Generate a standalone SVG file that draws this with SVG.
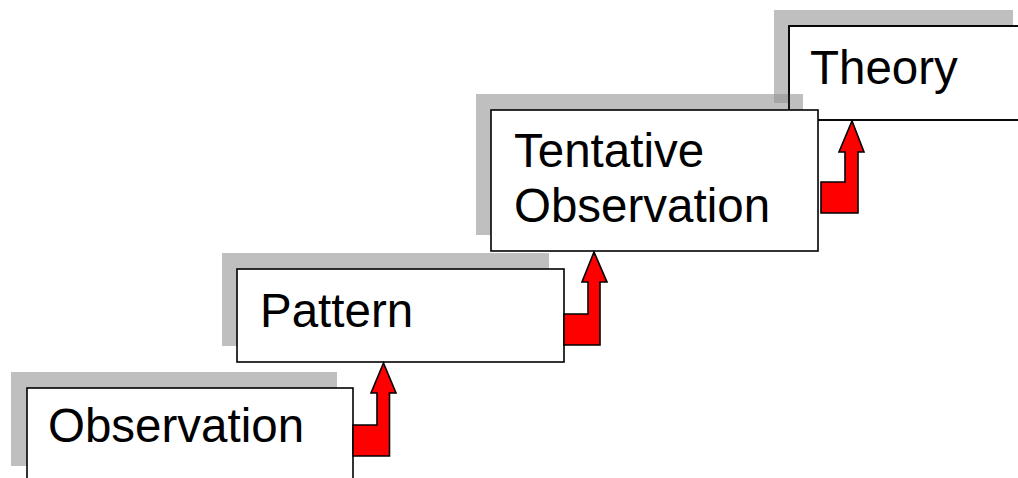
<svg xmlns="http://www.w3.org/2000/svg" width="1018" height="478" viewBox="0 0 1018 478">
<style>
.shadow{fill:#949494;fill-opacity:0.6;stroke:none}
.box{fill:#ffffff;stroke:#000000;stroke-width:1.6}
.edge{fill:none;stroke:#000000;stroke-width:1.6}
.lbl{font-family:"Liberation Sans",Arial,sans-serif;font-size:47.5px;fill:#000000}
.arrow{fill:#ff0000;stroke:#000000;stroke-width:1.6;stroke-linejoin:miter}
</style>
<rect width="1018" height="478" fill="#ffffff"/>
<g id="node-theory">
<rect class="shadow" x="774" y="10" width="239" height="93"/>
<rect class="box" x="789" y="26" width="260" height="94"/>
<text class="lbl" x="810" y="84">Theory</text>
</g>
<g id="node-tentative">
<rect class="shadow" x="476" y="94" width="327" height="141"/>
<rect class="edge" x="789" y="26" width="260" height="94"/>
<rect class="box" x="491" y="110" width="327" height="141"/>
<text class="lbl" x="514" y="167">Tentative</text>
<text class="lbl" x="514" y="222">Observation</text>
</g>
<g id="node-pattern">
<rect class="shadow" x="222" y="253" width="327" height="93"/>
<rect class="box" x="237" y="269" width="327" height="93"/>
<text class="lbl" x="260" y="327">Pattern</text>
</g>
<g id="node-observation">
<rect class="shadow" x="11" y="372" width="326" height="94"/>
<rect class="box" x="27" y="388" width="326" height="100"/>
<text class="lbl" x="48" y="442">Observation</text>
</g>
<g id="connectors">
<polygon class="arrow" points="353,425 377,425 377,393 371,393 383.5,363 396,393 389.5,393 389.5,456 353,456"/>
<polygon class="arrow" points="564,314 588,314 588,282 582,282 594,252 607,282 600,282 600,345 564,345"/>
<polygon class="arrow" points="821,182 845,182 845,152 839,152 852,121 864,152 858,152 858,213 821,213"/>
</g>
</svg>
